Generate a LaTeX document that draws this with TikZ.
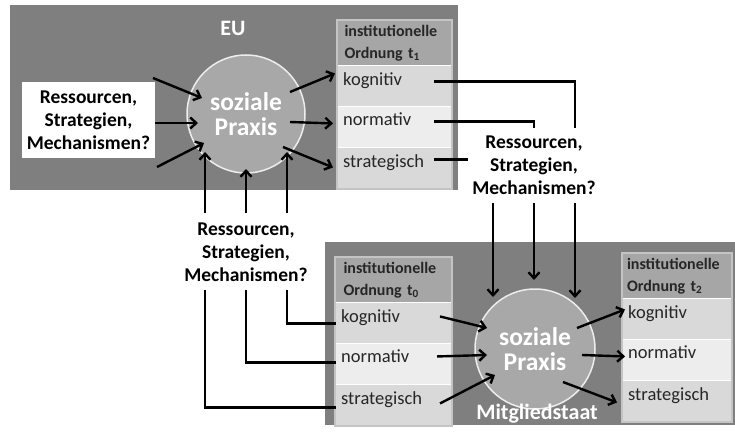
\documentclass[tikz,border=0pt]{standalone}
\usepackage{fontspec}
\setmainfont{Carlito}
\usetikzlibrary{math, calc, positioning, arrows.meta}

\definecolor{boxgray}{HTML}{7F7F7F}
\definecolor{praxgray}{HTML}{A8A8A8}
\definecolor{headgray}{HTML}{A6A6A6}
\definecolor{rowdark}{HTML}{D9D9D9}
\definecolor{rowlight}{HTML}{EDEDED}
\definecolor{tabframe}{HTML}{C4C4C4}
\definecolor{inktext}{HTML}{262626}

\begin{document}
\begin{tikzpicture}[x=1pt, y=1pt, line width=2.4pt,
    bigbox/.style={fill=boxgray, inner sep=0, outer sep=0},
    praxis/.style={circle, draw=rowlight, line width=1.5pt, fill=praxgray, text=white,
        font=\fontsize{25.5}{25}\selectfont\bfseries, align=center, minimum size=#1},
    boxlabel/.style={text=white, font=\fontsize{22}{24}\selectfont\bfseries},
    resbox/.style={fill=white, inner sep=0, outer sep=0, align=center,
        font=\fontsize{19.5}{23}\selectfont\bfseries},
    headbox/.style={fill=headgray, draw=white, line width=1pt, inner sep=5pt, outer sep=0,
        text width=100pt, align=left, text=inktext, font=\fontsize{16}{22}\selectfont\bfseries},
    rowbox/.style={draw=white, line width=1pt, inner sep=0, outer sep=0},
    rowtxt/.style={anchor=north west, inner sep=5pt, text=inktext, font=\fontsize{18.5}{20}\selectfont},
    arr/.style={-{Straight Barb[length=6pt, width=11pt]}},
    link/.style={line cap=rect}
]
    \tikzmath{
        \headh=45;
        \rowh=41;
    }
    \useasboundingbox (0, 0) rectangle (735, 432);

    % boxes
    \node [bigbox, minimum width=448, minimum height=185] (euBox) at (234, 334.5) {};
    \node [bigbox, minimum width=410, minimum height=183] (msBox) at (530, 98.5) {};

    % soziale Praxis
    \node [praxis=118] (euP) at (246, 318) {soziale\\Praxis};
    \node [praxis=120] (msP) at (535, 83) {soziale\\Praxis};
    \node [boxlabel] (euLab) at (233, 404) {EU};
    \node [boxlabel] (msLab) at (537, 18) {Mitgliedstaat};

    % Ressourcen
    \node [resbox, minimum width=133, minimum height=76] (resA) at (88.5, 312) {Ressourcen,\\Strategien,\\Mechanismen?};
    \node [resbox, minimum width=135, minimum height=76] (resB) at (534, 267) {Ressourcen,\\Strategien,\\Mechanismen?};
    \node [resbox, minimum width=135, minimum height=78] (resC) at (246, 180) {Ressourcen,\\Strategien,\\Mechanismen?};

    % institutionelle Ordnung t0, t1, t2
    \foreach \tab/\tx/\ty/\tw/\tsub in {tA/337/412/115/1, tB/335/175/117/0, tC/622/179/110/2}{
        \node [headbox, minimum width=\tw, minimum height=\headh, anchor=north west] (\tab-head) at (\tx, \ty)
            {institutionelle\\Ordnung t\textsubscript{\tsub}};
        \node [rowbox, fill=rowdark, minimum width=\tw, minimum height=\rowh, below=0pt of \tab-head,
            label={[rowtxt]north west:kognitiv}] (\tab-kog) {};
        \node [rowbox, fill=rowlight, minimum width=\tw, minimum height=\rowh, below=0pt of \tab-kog,
            label={[rowtxt]north west:normativ}] (\tab-nor) {};
        \node [rowbox, fill=rowdark, minimum width=\tw, minimum height=\rowh, below=0pt of \tab-nor,
            label={[rowtxt]north west:strategisch}] (\tab-str) {};
        \draw [tabframe, line width=1.5pt] (\tab-head.north west) rectangle (\tab-str.south east);
    }

    % EU
    \draw [arr] ([xshift=-2, yshift=4]resA.north east) -- ($(euP)+(-44, 16)$);
    \draw [arr] ([yshift=-3]resA.east) -- ($(euP)+(-48, -9)$);
    \draw [arr] ([xshift=2, yshift=-9]resA.south east) -- ($(euP)+(-42, -29)$);
    \draw [arr] ($(euP)+(44, 22)$) -- ([xshift=-2, yshift=13]tA-kog.west);
    \draw [arr] ($(euP)+(44, -8)$) -- ([xshift=-4, yshift=4]tA-nor.west);
    \draw [arr] ($(euP)+(37, -33)$) -- ([xshift=-4, yshift=1]tA-str.west);
    \draw [arr] ([xshift=-41]resC.north) -- ($(euP)+(-41, -38)$);
    \draw [arr] (resC.north) -- ($(euP)+(0, -55)$);
    \draw [arr] ([xshift=41]resC.north) -- ($(euP)+(41, -38)$);

    % t1 -> Ressourcen
    \draw [link] ([xshift=-17, yshift=5]tA-kog.east) -| ([xshift=41]resB.north);
    \draw [link] ([xshift=-17, yshift=6]tA-nor.east) -| (resB.north);
    \draw [link] ([xshift=-17, yshift=9]tA-str.east) coordinate (strA) -- (strA -| resB.west);

    % Ressourcen -> t0
    \draw [link] ([xshift=41]resC.south) |- (tB-kog.west);
    \draw [link] (resC.south) |- ([yshift=2]tB-nor.west);
    \draw [link] ([xshift=-41]resC.south) |- ([yshift=-2]tB-str.west);

    % Mitgliedstaat
    \draw [arr] ([xshift=-41]resB.south) -- ($(msP)+(-42, 52)$);
    \draw [arr] (resB.south) -- ($(msP)+(-1, 69)$);
    \draw [arr] ([xshift=41]resB.south) -- ($(msP)+(40, 51)$);
    \draw [arr] ([xshift=-12, yshift=7]tB-kog.east) -- ($(msP)+(-48, 21)$);
    \draw [arr] ([xshift=-15, yshift=8]tB-nor.east) -- ($(msP)+(-48, -6)$);
    \draw [arr] ([xshift=-12, yshift=2]tB-str.east) -- ($(msP)+(-40, -26)$);
    \draw [arr] ($(msP)+(42, 21)$) -- ([xshift=3, yshift=10]tC-kog.west);
    \draw [arr] ($(msP)+(47, -6)$) -- ([xshift=3, yshift=4]tC-nor.west);
    \draw [arr] ($(msP)+(28, -33)$) -- ([xshift=-5, yshift=-1]tC-str.west);
\end{tikzpicture}
\end{document}
